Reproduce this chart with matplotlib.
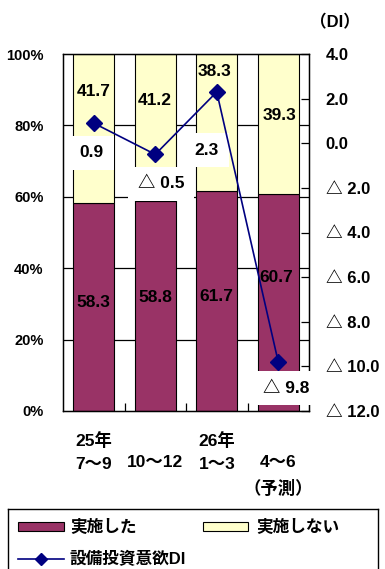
import matplotlib
matplotlib.use("Agg")
import matplotlib.pyplot as plt
from matplotlib.patches import Rectangle
from matplotlib.lines import Line2D
import numpy as np

plt.rcParams['font.family'] = ['Liberation Sans', 'Noto Sans CJK JP', 'DejaVu Sans']
plt.rcParams['font.weight'] = 'bold'

# ---- data ----
periods = ['25年\n7～9', '\n10～12', '26年\n1～3', '\n4～6\n（予測）']
implemented = [58.3, 58.8, 61.7, 60.7]        # 実施した (%)
not_implemented = [41.7, 41.2, 38.3, 39.3]    # 実施しない (%)
di = [0.9, -0.5, 2.3, -9.8]                   # 設備投資意欲DI

MAROON = '#993366'
CREAM = '#FFFFCC'
NAVY = '#000080'

W, H = 385, 569
fig = plt.figure(figsize=(W / 100, H / 100), dpi=100)


def px_axes(x0, y0, x1, y1):
    return [x0 / W, 1 - y1 / H, (x1 - x0) / W, (y1 - y0) / H]


def di_text(v):
    return f'△ {abs(v):.1f}' if v < 0 else f'{v:.1f}'


ax = fig.add_axes(px_axes(63, 54, 309, 411))
x = np.arange(len(periods))

ax.set_xlim(-0.5, len(periods) - 0.5)
ax.set_ylim(0, 100)
for g in (20, 40, 60, 80):
    ax.axhline(g, color='black', lw=0.9, zorder=0)

ax.bar(x, implemented, width=0.66, color=MAROON, edgecolor='black', lw=0.8, zorder=2)
ax.bar(x, not_implemented, bottom=implemented, width=0.66, color=CREAM,
       edgecolor='black', lw=0.8, zorder=2)

ax.set_yticks([0, 20, 40, 60, 80, 100])
ax.set_yticklabels([f'{v}%' for v in range(0, 101, 20)], fontsize=10.5)
ax.tick_params(axis='y', length=0, pad=14)
ax.set_xticks(x)
ax.set_xticklabels(periods, fontsize=12.5, va='top')
for lbl in ax.get_xticklabels():
    lbl.set_linespacing(1.7)
ax.set_xticks(x[:-1] + 0.5, minor=True)
ax.tick_params(axis='x', which='major', length=0, pad=15)
ax.tick_params(axis='x', which='minor', direction='in', length=6, width=0.9)
for s in ax.spines.values():
    s.set_linewidth(1.0)

# DI line on secondary axis
ax2 = ax.twinx()
ax2.set_ylim(-12, 4)
ax2.plot(x, di, color=NAVY, lw=1.2, marker='D', ms=8, zorder=5)
di_ticks = np.arange(-12, 4.1, 2)
ax2.set_yticks(di_ticks)
ax2.set_yticklabels([di_text(v) for v in di_ticks], fontsize=12)
ax2.tick_params(axis='y', direction='in', length=6, width=0.9, pad=12)
for lbl in ax2.get_yticklabels():
    lbl.set_horizontalalignment('left')
fig.text(335 / W, 1 - 22 / H, '（DI）', fontsize=12, ha='center', va='center')

# value labels for the bars (positions in percent axis units)
upper_pos = [(0.0, 89.4), (1.0, 87.1), (1.97, 95.0), (3.02, 82.9)]
lower_pos = [(0.0, 30.5), (1.0, 31.7), (2.0, 32.0), (2.97, 37.3)]
for (lx, ly), v in zip(upper_pos, not_implemented):
    ax2.text(lx, ly, f'{v:.1f}', transform=ax.transData, fontsize=12.5,
             ha='center', va='center', zorder=6)
for (lx, ly), v in zip(lower_pos, implemented):
    ax2.text(lx, ly, f'{v:.1f}', transform=ax.transData, fontsize=12.5,
             ha='center', va='center', zorder=6)

# DI value labels in white boxes
di_pos = [(-0.03, 72.3), (1.09, 63.6), (1.84, 73.1), (3.13, 6.4)]
for (lx, ly), v in zip(di_pos, di):
    ax2.text(lx, ly, di_text(v), transform=ax.transData, fontsize=12.5,
             ha='center', va='center', zorder=4,
             bbox=dict(boxstyle='square,pad=0.55', facecolor='white',
                       edgecolor='none'))

# legend box
lg = fig.add_axes(px_axes(8, 509, 378, 580))
lg.set_xlim(8, 378)
lg.set_ylim(580, 509)
lg.set_xticks([])
lg.set_yticks([])
for s in lg.spines.values():
    s.set_linewidth(1.0)
lg.add_patch(Rectangle((18, 522), 46, 9, facecolor=MAROON, edgecolor='black', lw=0.8))
lg.text(70, 527, '実施した', fontsize=12, va='center', ha='left')
lg.add_patch(Rectangle((203, 522), 45, 9, facecolor=CREAM, edgecolor='black', lw=0.8))
lg.text(256, 527, '実施しない', fontsize=12, va='center', ha='left')
lg.add_line(Line2D([18, 64], [559, 559], color=NAVY, lw=1.2))
lg.add_line(Line2D([41], [559], color=NAVY, marker='D', ms=6))
lg.text(70, 559, '設備投資意欲DI', fontsize=12, va='center', ha='left')

fig.savefig('out.png', dpi=100)
